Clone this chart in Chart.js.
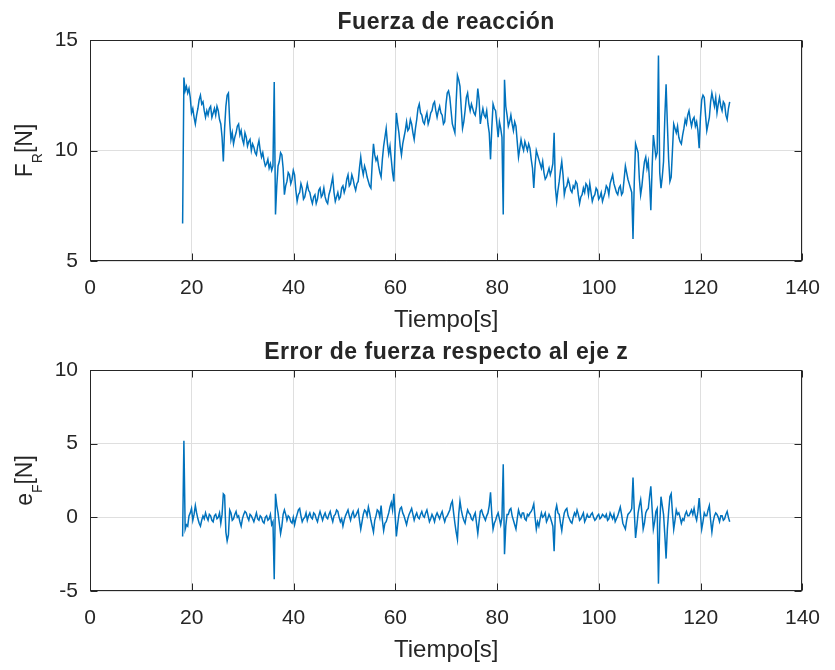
<!DOCTYPE html>
<html>
<head>
<meta charset="utf-8">
<script src="https://cdn.jsdelivr.net/npm/chart.js@4"></script>
<style>
  html, body { margin: 0; padding: 0; background: #ffffff; }
  #wrap { position: relative; width: 835px; height: 670px; }
  canvas { position: absolute; left: 0; }
</style>
</head>
<body>
<div id="wrap">
  <canvas id="forceChart" width="835" height="340" style="top:0px"></canvas>
  <canvas id="errorChart" width="835" height="340" style="top:330px"></canvas>
</div>
<script>
// Sampling grid of the logged signals (seconds)
const T_START = 18.2;
const T_STEP = 0.25;

// Reaction force F_R [N], one value per sample (20 samples = 5 s per row)
const forceValues = [
  6.7, 13.3, 12.7, 12.9, 12.6, 12.8, 12.4, 11.7, 11.9, 11.5, 11.2, 11.6, 11.9, 12.3, 12.5, 12.1, 12.2, 11.8, 11.5, 11.8,
  11.6, 11.9, 12.0, 11.5, 11.7, 11.9, 11.6, 12.0, 11.8, 11.4, 11.2, 10.6, 9.5, 11.0, 12.0, 12.5, 12.6, 11.3, 10.5, 10.8,
  10.3, 10.6, 10.8, 11.1, 11.2, 10.7, 10.9, 10.5, 10.3, 10.8, 10.6, 10.2, 10.4, 10.5, 10.0, 10.3, 10.15, 9.9, 9.8, 10.2,
  10.45, 10.0, 9.7, 9.9, 9.55, 9.3, 9.4, 9.6, 9.2, 9.4, 9.1, 9.3, 13.1, 7.1, 8.4, 9.3, 9.5, 9.9, 9.8, 9.2,
  8.0, 8.4, 8.6, 9.0, 8.9, 8.5, 8.7, 9.1, 8.9, 8.2, 7.7, 8.0, 8.1, 8.5, 8.3, 7.8, 7.9, 8.2, 8.5, 8.2,
  8.1, 7.8, 7.6, 7.9, 8.0, 7.6, 7.8, 8.2, 8.3, 7.9, 8.0, 8.3, 7.9, 7.7, 7.6, 8.0, 8.2, 8.5, 8.8, 8.1,
  7.7, 7.9, 8.1, 7.8, 7.9, 8.3, 8.4, 8.1, 8.3, 8.7, 8.9, 8.4, 8.5, 8.9, 8.7, 8.4, 8.2, 8.5, 8.6, 9.2,
  9.7, 9.2, 8.9, 9.3, 9.1, 8.8, 8.6, 8.4, 8.3, 9.4, 10.3, 9.8, 9.55, 9.7, 9.3, 9.0, 8.8, 9.6, 10.2, 10.6,
  11.0, 10.3, 9.85, 10.2, 9.6, 9.0, 8.6, 10.2, 11.7, 11.2, 10.8, 10.2, 9.8, 10.3, 10.6, 10.9, 11.3, 10.9, 11.0, 11.4,
  11.2, 10.8, 10.5, 11.0, 11.4, 11.9, 12.1, 11.7, 11.6, 11.3, 11.2, 11.5, 11.7, 11.2, 11.4, 11.7, 11.8, 12.1, 12.2, 11.8,
  11.5, 11.8, 12.0, 11.7, 11.6, 11.2, 11.3, 12.1, 12.6, 12.7, 12.4, 11.8, 11.2, 11.0, 10.8, 12.2, 13.4, 13.2, 12.9, 11.9,
  11.0, 11.3, 11.8, 12.4, 12.6, 12.1, 11.8, 12.1, 11.9, 11.7, 11.6, 12.0, 12.8, 12.3, 11.2, 11.6, 11.9, 11.6, 11.5, 11.8,
  11.2, 10.8, 9.6, 11.0, 12.1, 11.9, 11.8, 11.2, 10.6, 11.3, 11.0, 10.6, 7.1, 13.2, 12.0, 11.6, 11.1, 11.3, 11.6, 11.2,
  10.9, 11.3, 11.1, 10.4, 9.7, 10.1, 10.5, 10.2, 10.0, 10.4, 10.2, 10.0, 10.3, 10.1, 9.6, 9.2, 8.3, 9.3, 10.0, 9.8,
  9.6, 9.4, 9.2, 9.5, 9.0, 8.7, 8.8, 9.0, 9.2, 8.9, 9.1, 9.4, 10.8, 8.3, 7.7, 8.2, 8.6, 9.1, 9.5, 8.9,
  8.0, 8.3, 8.4, 8.7, 8.5, 8.2, 8.1, 8.4, 8.3, 8.6, 8.5, 8.0, 7.6, 7.9, 8.0, 8.3, 8.1, 8.5, 8.4, 8.0,
  8.5, 8.1, 7.7, 7.9, 8.0, 8.3, 8.2, 7.8, 7.9, 8.1, 7.7, 7.9, 8.1, 8.4, 8.3, 8.0, 8.5, 8.7, 8.9, 8.5,
  8.3, 8.1, 8.0, 8.3, 8.4, 8.0, 8.1, 8.7, 9.3, 9.0, 8.7, 8.5, 8.3, 8.1, 6.0, 8.6, 10.3, 10.1, 9.9, 8.7,
  8.0, 8.4, 9.0, 9.5, 9.7, 9.2, 9.5, 8.6, 7.3, 9.2, 10.7, 10.2, 9.7, 9.9, 14.3, 9.0, 8.3, 8.8, 9.5, 11.5,
  13.0, 11.2, 9.6, 8.6, 8.8, 10.0, 11.2, 11.0, 10.8, 11.1, 10.6, 10.4, 10.3, 10.7, 11.0, 11.4, 11.2, 11.6, 11.8, 11.4,
  11.1, 11.4, 11.5, 11.1, 11.3, 10.9, 10.1, 11.5, 12.3, 12.5, 12.4, 11.6, 10.9, 11.2, 11.5, 12.2, 12.6, 12.3, 12.0, 12.4,
  11.7, 12.1, 12.4, 12.0, 11.8, 12.2, 12.1, 11.6, 11.4, 11.9, 12.2
];

// Force error along the z axis e_F [N], same samples
const errorValues = [
  -1.3, 5.2, -0.8, -0.5, -0.6, 0.1, 0.3, 0.6, -0.2, 0.2, 0.8, 0.3, -0.1, -0.4, -0.6, -0.2, 0.1, -0.1, 0.3, 0.0,
  -0.2, 0.2, 0.1, -0.2, -0.3, 0.1, 0.2, -0.1, 0.0, 0.3, -0.4, 0.2, 1.6, 1.5, -1.0, -1.6, -1.2, 0.5, 0.3, -0.2,
  -0.1, 0.2, 0.4, 0.0, 0.1, -0.3, -0.6, -0.1, 0.2, 0.4, 0.3, 0.0, -0.2, 0.2, 0.1, -0.1, -0.3, 0.0, 0.3, -0.1,
  -0.2, 0.1, 0.0, -0.3, -0.4, 0.0, 0.1, -0.2, -0.1, 0.2, -0.5, -0.3, -4.2, 1.6, 0.8, 0.3, -0.4, -1.1, -0.6, 0.2,
  0.5, 0.2, -0.2, 0.1, 0.0, -0.3, -0.4, 0.0, -0.5, -0.1, 0.2, 0.5, 0.6, 0.1, -0.3, -0.1, 0.0, 0.3, -0.2, 0.1,
  0.3, 0.0, -0.1, 0.3, 0.2, -0.1, -0.3, 0.1, 0.4, 0.1, -0.2, 0.1, 0.3, 0.0, -0.1, 0.2, 0.4, 0.0, -0.3, 0.1,
  0.2, 0.5, 0.4, 0.0, -0.3, -0.1, -0.6, -0.2, 0.1, 0.3, 0.5, 0.1, -0.2, 0.2, 0.4, 0.0, 0.1, 0.3, 0.5, -0.2,
  -0.8, -0.3, 0.2, 0.5, 0.4, 0.1, 0.7, 0.3, -0.2, -0.6, -1.0, -0.2, 0.1, 0.5, 0.4, 0.0, 0.8, -0.2, -0.9, -0.4,
  -0.3, 0.0, 0.3, 0.7, 1.0, 0.5, 1.6, 0.2, -1.3, -0.5, 0.2, 0.6, 0.7, 0.3, 0.1, -0.2, -0.5, -0.1, 0.2, 0.4,
  0.6, 0.2, -0.2, 0.1, 0.3, 0.0, -0.1, 0.2, 0.4, 0.1, 0.0, 0.3, 0.5, 0.1, -0.3, -0.1, 0.2, 0.0, -0.3, 0.1,
  0.3, 0.1, -0.1, 0.2, 0.4, 0.0, -0.3, 0.0, 0.1, 0.3, 0.5, 0.9, 1.1, 0.3, -0.4, -1.0, -1.5, 0.2, 1.1, 0.5,
  0.1, -0.2, -0.4, 0.1, 0.5, 0.3, 0.2, -0.1, -0.2, 0.1, 0.3, -0.4, -1.1, -0.3, 0.4, 0.5, 0.2, 0.0, -0.2, 0.1,
  0.3, 0.8, 1.7, 0.2, -0.8, -0.4, -0.2, 0.1, 0.3, -0.1, -0.5, 0.0, 3.6, -2.5, -0.6, 0.2, 0.2, 0.5, 0.6, 0.1,
  -0.2, -0.5, -0.8, -0.1, 0.5, 0.2, 0.0, 0.3, 0.3, -0.1, -0.2, 0.2, 0.1, 0.3, 0.4, 0.6, 0.9, 0.0, -0.8, -0.3,
  -0.6, -0.1, 0.3, 0.0, 0.1, 0.3, -0.3, -0.1, 0.2, 0.0, -0.3, -0.6, -2.3, 0.4, 0.8, 0.3, 0.2, -0.4, -0.9, -0.2,
  0.3, 0.5, 0.6, 0.1, -0.1, -0.3, -0.4, 0.0, 0.3, 0.1, 0.5, 0.2, -0.2, -0.1, 0.1, 0.3, -0.3, -0.1, 0.2, 0.0,
  0.0, 0.2, 0.3, 0.0, -0.2, -0.1, 0.1, 0.2, -0.1, 0.0, 0.2, 0.1, 0.0, 0.2, -0.2, -0.1, 0.3, 0.1, -0.1, 0.2,
  -0.3, -0.1, 0.1, 0.4, 0.7, 0.2, -0.4, -0.6, -0.8, -0.2, 0.2, 0.3, 0.4, 0.6, 2.7, 0.4, -1.4, -0.6, 0.3, 0.8,
  1.2, 0.3, -0.8, -0.4, 0.3, 0.5, 0.6, 1.4, 2.1, 0.6, -0.8, -0.3, 0.4, 0.6, -4.5, -0.5, 1.4, 0.8, 0.2, -1.2,
  -2.8, -0.8, 0.4, 1.4, 1.6, 0.3, -0.8, -0.2, 0.5, 0.2, 0.3, 0.0, -0.4, -0.1, -0.2, 0.2, 0.4, 0.1, 0.1, 0.3,
  0.5, 0.2, 0.6, 0.1, -0.2, 0.4, 1.3, 0.2, -0.8, -0.3, 0.3, 0.1, 0.1, 0.5, 0.8, -0.2, -1.0, -0.3, 0.1, 0.3,
  0.2, 0.0, -0.3, 0.1, 0.1, -0.2, -0.1, 0.2, 0.4, 0.0, -0.3
];

// Axis ticks
const timeTicks = [0, 20, 40, 60, 80, 100, 120, 140];
const forceTicks = [5, 10, 15];
const errorTicks = [-5, 0, 5, 10];

const sampleTimes = forceValues.map((_, i) => Math.round((T_START + i * T_STEP) * 100) / 100);

const FONT = '"Liberation Sans", Arial, Helvetica, sans-serif';
const INK = '#262626';
const LINE_BLUE = '#0072BD';
const GRID = '#dfdfdf';

// Box, inward ticks, panel title and axis labels drawn around the plot area
const framePlugin = {
  id: 'framePlugin',
  afterDraw(chart, args, opts) {
    const { ctx, chartArea: a, scales } = chart;
    const L = Math.round(a.left) + 0.5, R = Math.round(a.right) - 0.5;
    const T = Math.round(a.top) + 0.5, B = Math.round(a.bottom) - 0.5;
    ctx.save();
    ctx.strokeStyle = INK;
    ctx.lineWidth = 1;
    ctx.beginPath();
    const tk = 7;
    scales.x.ticks.forEach(t => {
      const px = Math.round(scales.x.getPixelForValue(t.value)) + 0.5;
      ctx.moveTo(px, B); ctx.lineTo(px, B - tk);
      ctx.moveTo(px, T); ctx.lineTo(px, T + tk);
    });
    scales.y.ticks.forEach(t => {
      const py = Math.round(scales.y.getPixelForValue(t.value)) + 0.5;
      ctx.moveTo(L, py); ctx.lineTo(L + tk, py);
      ctx.moveTo(R, py); ctx.lineTo(R - tk, py);
    });
    ctx.stroke();
    ctx.strokeRect(L, T, R - L, B - T);

    ctx.fillStyle = INK;
    const cx = (a.left + a.right) / 2;
    // panel title
    ctx.font = 'bold 23px ' + FONT;
    ctx.letterSpacing = '0.5px';
    ctx.textAlign = 'center';
    ctx.textBaseline = 'alphabetic';
    ctx.fillText(opts.title, cx, a.top - 11);
    ctx.letterSpacing = '0px';
    // x label
    ctx.font = '24px ' + FONT;
    ctx.fillText(opts.xLabel, cx, a.bottom + 66);
    // y label with subscript
    const cy = (a.top + a.bottom) / 2;
    ctx.translate(32, cy);
    ctx.rotate(-Math.PI / 2);
    ctx.textAlign = 'left';
    const mainFont = '23px ' + FONT, subFont = '14px ' + FONT;
    ctx.font = mainFont;
    const w1 = ctx.measureText(opts.yMain).width;
    const w3 = ctx.measureText(opts.yUnit).width;
    ctx.font = subFont;
    const w2 = ctx.measureText(opts.ySub).width;
    const x0 = -(w1 + w2 + w3) / 2;
    ctx.font = mainFont;
    ctx.fillText(opts.yMain, x0, 0);
    ctx.font = subFont;
    ctx.fillText(opts.ySub, x0 + w1, 10);
    ctx.font = mainFont;
    ctx.fillText(opts.yUnit, x0 + w1 + w2, 0);
    ctx.restore();
  }
};

function makePanel(canvasId, values, yTicks, labels, xAxisHeight) {
  const pts = values.map((v, i) => ({ x: sampleTimes[i], y: v }));
  return new Chart(document.getElementById(canvasId), {
    type: 'line',
    data: {
      datasets: [{
        data: pts,
        borderColor: LINE_BLUE,
        borderWidth: 1.5,
        pointRadius: 0,
        tension: 0,
        fill: false
      }]
    },
    plugins: [framePlugin],
    options: {
      responsive: false,
      animation: false,
      events: [],
      layout: { padding: { top: 40, right: 19, bottom: 0, left: 0 } },
      plugins: {
        legend: { display: false },
        tooltip: { enabled: false },
        title: { display: false },
        framePlugin: labels
      },
      scales: {
        x: {
          type: 'linear',
          min: timeTicks[0],
          max: timeTicks[timeTicks.length - 1],
          afterBuildTicks: s => { s.ticks = timeTicks.map(v => ({ value: v })); },
          ticks: {
            font: { family: FONT, size: 21 },
            color: INK,
            padding: 15,
            maxRotation: 0,
            autoSkip: false,
            callback: v => String(v)
          },
          grid: { color: GRID, lineWidth: 1, drawTicks: false },
          border: { display: false },
          afterFit: s => { s.height = xAxisHeight; }
        },
        y: {
          min: yTicks[0],
          max: yTicks[yTicks.length - 1],
          afterBuildTicks: s => { s.ticks = yTicks.map(v => ({ value: v })); },
          ticks: {
            font: { family: FONT, size: 21 },
            color: INK,
            padding: 12,
            callback: v => String(v)
          },
          grid: { color: GRID, lineWidth: 1, drawTicks: false },
          border: { display: false },
          afterFit: s => { s.width = 90; }
        }
      }
    }
  });
}

makePanel('forceChart', forceValues, forceTicks, {
  title: 'Fuerza de reacción', xLabel: 'Tiempo[s]', yMain: 'F', ySub: 'R', yUnit: '[N]'
}, 79);

makePanel('errorChart', errorValues, errorTicks, {
  title: 'Error de fuerza respecto al eje z', xLabel: 'Tiempo[s]', yMain: 'e', ySub: 'F', yUnit: '[N]'
}, 79);
</script>
</body>
</html>
